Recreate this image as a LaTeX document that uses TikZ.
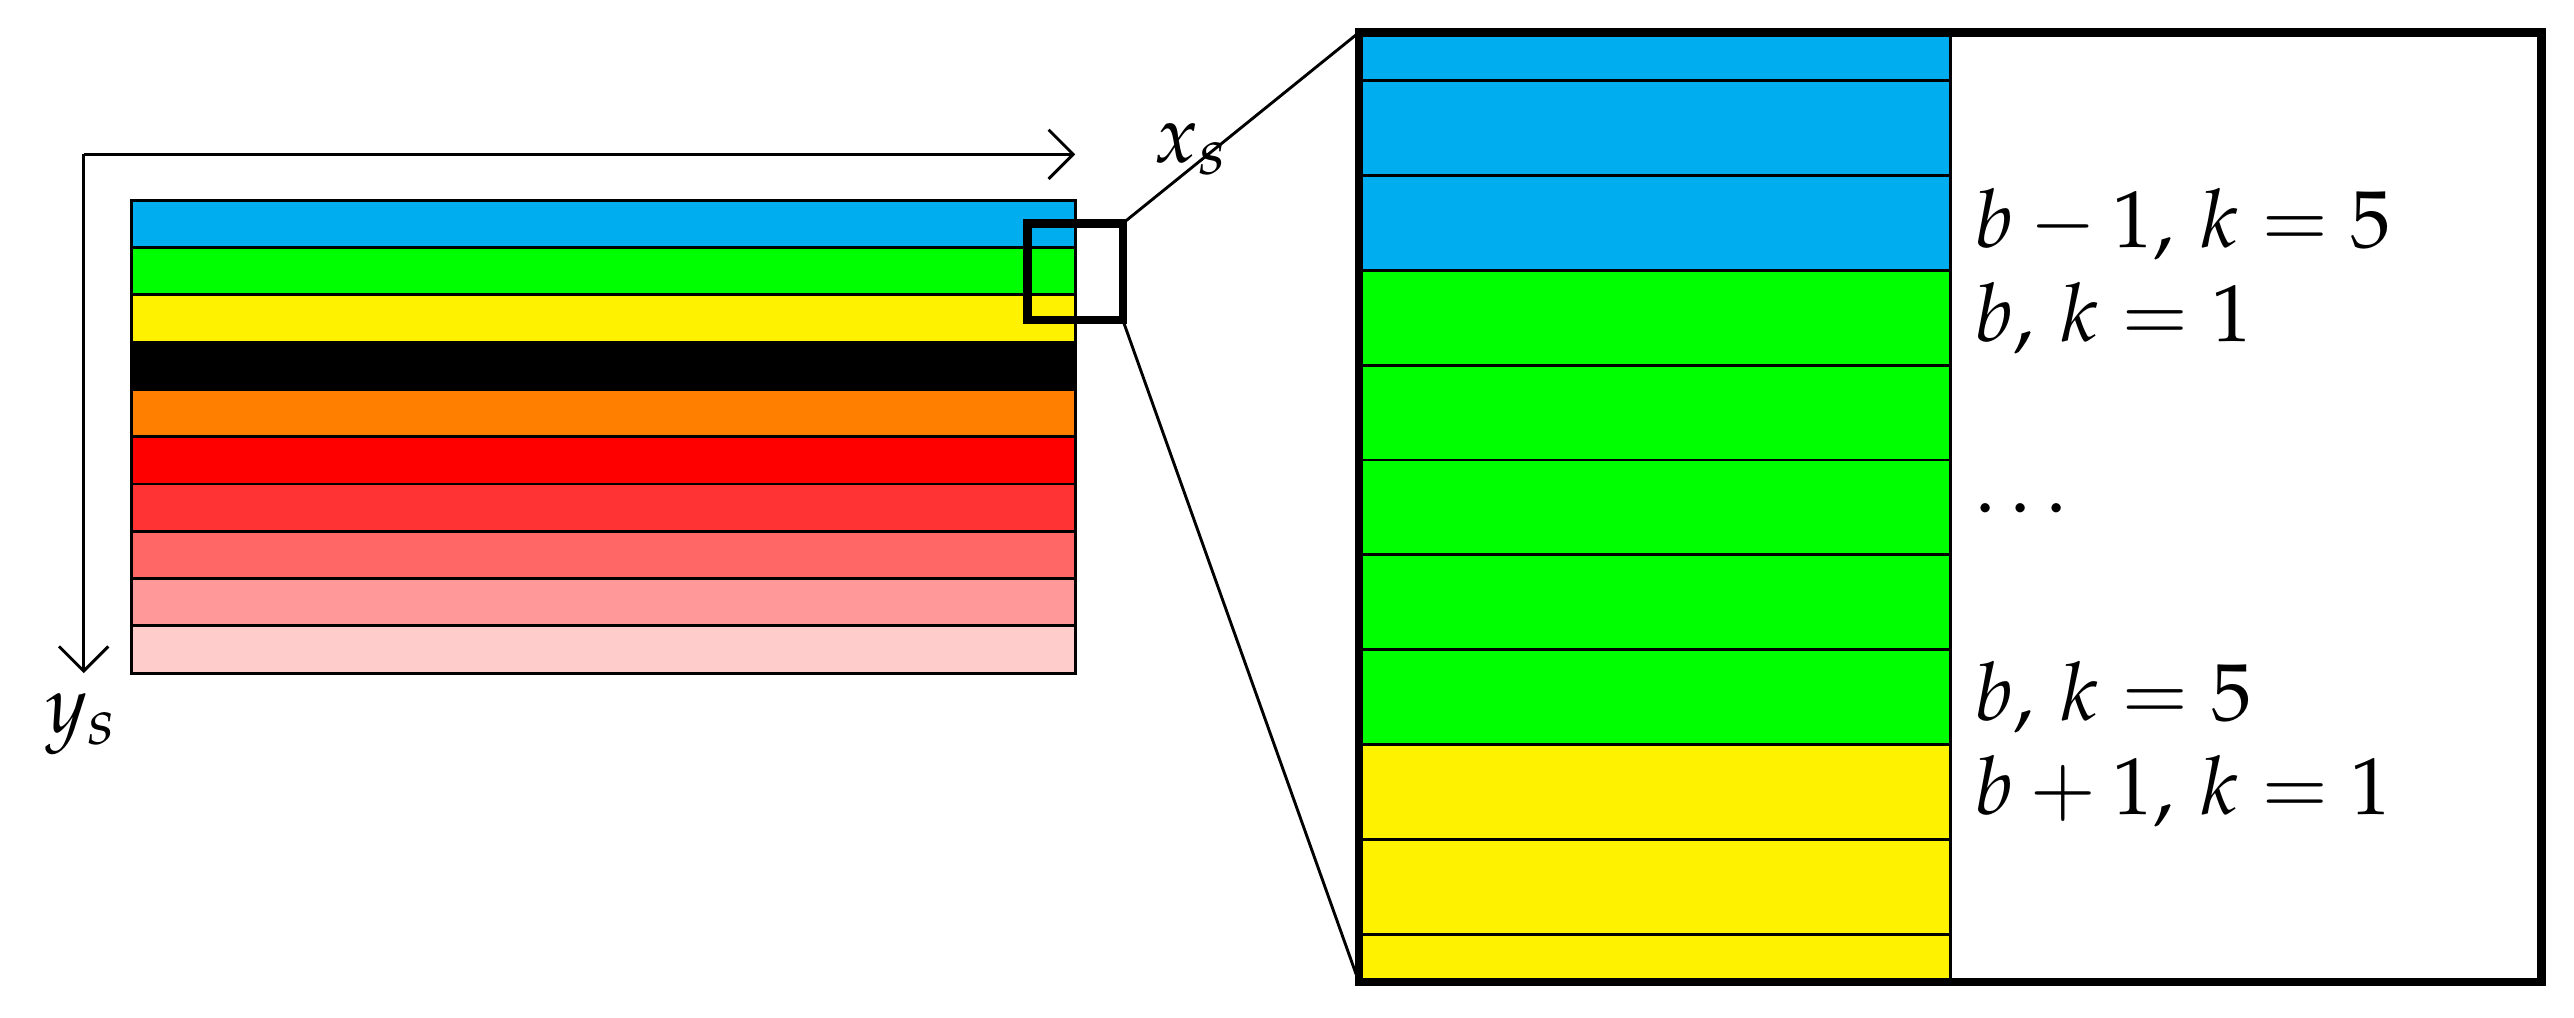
\documentclass[tikz,border=0pt]{standalone}
\usepackage{mathpazo}
\usetikzlibrary{arrows.meta}
\definecolor{sblue}{RGB}{0,174,239}
\definecolor{sgreen}{RGB}{0,255,0}
\definecolor{syellow}{RGB}{255,242,0}
\definecolor{sorange}{RGB}{255,128,0}
\definecolor{sred}{RGB}{255,0,0}
\definecolor{sredA}{RGB}{255,51,51}
\definecolor{sredB}{RGB}{255,102,102}
\definecolor{sredC}{RGB}{255,153,153}
\definecolor{sredD}{RGB}{255,204,204}
\newcommand{\bigsub}[1]{\raisebox{-0.35ex}{\fontsize{11.5}{12}\selectfont$#1$}}
\begin{document}
\begin{tikzpicture}[x=0.01cm,y=-0.01cm,
  stripe/.style={draw=black,line width=0.5pt},
  axisline/.style={line width=0.5pt,-{Straight Barb[length=0.15cm,width=0.30cm]}},
  zoombox/.style={draw=black,line width=1.5pt,rectangle,inner sep=0pt,outer sep=0pt},
  conn/.style={line width=0.5pt},
  lbl/.style={anchor=base west,inner sep=0pt,font=\fontsize{14}{16}\selectfont},
  axlbl/.style={inner sep=0pt,font=\fontsize{14}{16}\selectfont}]
\useasboundingbox (0,0) rectangle (1568,620);
% left stripes
\foreach \c [count=\i from 0] in {sblue,sgreen,syellow,black,sorange,sred,sredA,sredB,sredC,sredD}
  \filldraw[stripe,fill=\c] (80,{122+28.8*\i}) rectangle (655,{122+28.8*(\i+1)});
% axes
\coordinate (o) at (51,94);
\coordinate (xe) at (655,94);
\coordinate (ye) at (51,410);
\draw[axisline] (o) -- (xe);
\draw[axisline] (o) -- (ye);
\node[axlbl] (xs) at (725,91) {$x$\bigsub{s}};
\node[axlbl] (ys) at (49,441) {$y$\bigsub{s}};
% zoomed stripes
\begin{scope}
  \clip (828,20) rectangle (1188,598);
  \foreach \c [count=\i from 0] in {sblue,sblue,sblue,sgreen,sgreen,sgreen,sgreen,sgreen,syellow,syellow,syellow}
    \filldraw[stripe,fill=\c] (828,{-8.8+57.8*\i}) rectangle (1188,{-8.8+57.8*(\i+1)});
\end{scope}
% boxes
\node[zoombox,minimum width=0.58cm,minimum height=0.59cm] (small) at (655,165.5) {};
\node[zoombox,minimum width=7.20cm,minimum height=5.78cm] (big) at (1188,309) {};
\draw[stripe] (big.north) -- (big.south);
\draw[conn] (small.north east) -- (big.north west);
\draw[conn] (small.south east) -- (big.south west);
% labels
\node[lbl] (l1) at (1202,151) {$b-1,\,k=5$};
\node[lbl] (l2) at (1202,208) {$b,\,k=1$};
\node[lbl] (l3) at (1202,312) {$\ldots$};
\node[lbl] (l4) at (1202,439) {$b,\,k=5$};
\node[lbl] (l5) at (1202,496) {$b+1,\,k=1$};
\end{tikzpicture}
\end{document}
